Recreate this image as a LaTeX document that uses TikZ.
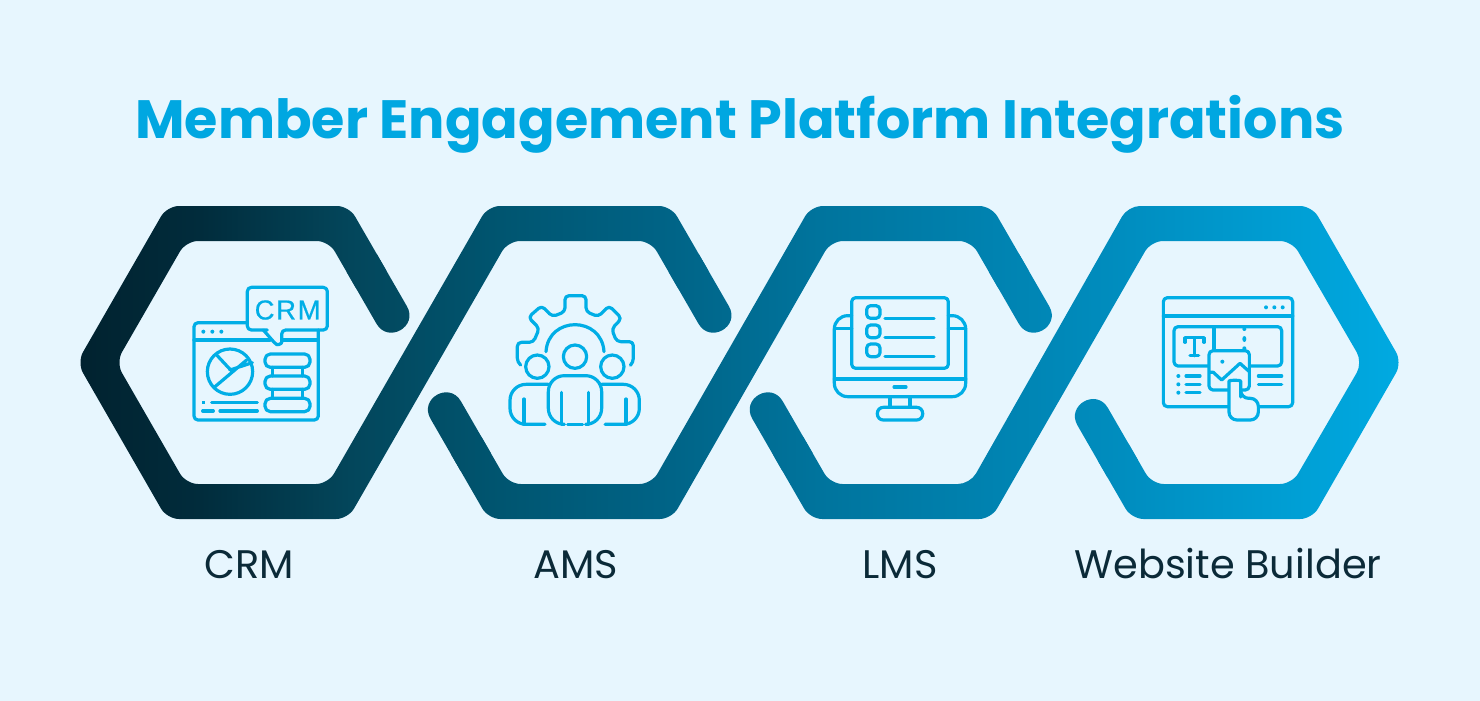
\documentclass[tikz,border=0pt]{standalone}
\usepackage{fontspec}
\setmainfont{Poppins}
\newfontfamily\titlefont{Poppins}
\newfontfamily\bubblefont[LetterSpace=6,FakeBold=0.5]{Liberation Sans}
\definecolor{bgc}{HTML}{E7F6FE}
\definecolor{titlec}{HTML}{00A7E1}
\definecolor{iconc}{HTML}{00AEE6}
\definecolor{labelc}{HTML}{0B2A38}
\definecolor{g0}{HTML}{01222F}
\definecolor{g1}{HTML}{012C3C}
\definecolor{g2}{HTML}{03465B}
\definecolor{g3}{HTML}{005570}
\definecolor{g4}{HTML}{006487}
\definecolor{g5}{HTML}{00749D}
\definecolor{g6}{HTML}{008EC0}
\definecolor{g7}{HTML}{00AAE2}
\pgfdeclarehorizontalshading{bandshade}{100bp}{
 color(0bp)=(g0); color(25bp)=(g0); color(29.65bp)=(g1); color(35.3bp)=(g2); color(40.95bp)=(g3);
 color(47.4bp)=(g4); color(53bp)=(g5); color(64.75bp)=(g6); color(75bp)=(g7); color(100bp)=(g7)}
\newcommand\topcap[2]{([shift={(#1,#2)}]15.2,-8.75) .. controls ([shift={(#1,#2)}]26.9,11.45) and ([shift={(#1,#2)}]-3.5,28.95) .. ([shift={(#1,#2)}]-15.2,8.75) -- ([shift={(#1,#2)}]-45.2,-43.25) -- ([shift={(#1,#2)}]-14.8,-60.75) -- cycle}
\newcommand\lowcap[2]{([shift={(#1,#2)}]-15.2,8.75) .. controls ([shift={(#1,#2)}]-26.9,-11.45) and ([shift={(#1,#2)}]3.5,-28.95) .. ([shift={(#1,#2)}]15.2,-8.75) -- ([shift={(#1,#2)}]45.2,43.25) -- ([shift={(#1,#2)}]14.8,60.75) -- cycle}
\tikzset{
  ic/.style={draw=iconc,line width=2.4pt,line cap=round,line join=round},
  icr/.style={ic,rounded corners=3pt},
  icf/.style={ic,fill=bgc},
  icdot/.style={fill=iconc},
  lab/.style={text=labelc,font=\fontsize{29.9}{34}\selectfont,anchor=base},
  z1/.style={shift={#1},x=0.25pt,y=-0.25pt}
}
\begin{document}
\begin{tikzpicture}[x=0.75pt,y=-0.75pt]
\useasboundingbox (0,0) rectangle (1480,700);
\fill[bgc] (-10,-10) rectangle (1490,710);
\node[text=titlec,anchor=base,font=\titlefont\bfseries\fontsize{40.47}{46}\selectfont] (title) at (740,138) {Member Engagement Platform Integrations};
% band: main bodies
\begin{scope}
\clip[rounded corners=9pt]
 (391.9,280.2) -- (349,206) -- (167,206) -- (77,362.5) -- (167,519) -- (348,519) -- (508,241) -- (650.75,241)
 -- (683.5,297.7) -- (713.9,280.2) -- (671,206) -- (488,206) -- (328,484) -- (186,484) -- (116,362.5) -- (186,241) -- (328.75,241)
 -- (361.5,297.7) -- cycle
 (475.9,427.25) -- (508.65,484) -- (651.5,484) -- (811,206) -- (991.35,206)
 -- (1034.2,280.2) -- (1003.8,297.7) -- (971.05,241) -- (831,241) -- (671.7,519) -- (488.35,519)
 -- (445.5,444.75) -- cycle
 (797.7,427.25) -- (830.45,484) -- (970,484) -- (1128,206) -- (1312,206) -- (1402,362.5) -- (1312,519) -- (1131.5,519)
 -- (1092.5,451.45) -- (1122.9,433.95)
 -- (1151.8,484) -- (1292,484) -- (1362.7,362.5) -- (1292,241) -- (1151,241) -- (991,519) -- (810.15,519)
 -- (767.3,444.75) -- cycle;
\shade[shading=bandshade] (77,200) rectangle (1402,525);
\end{scope}
% band: round ends
\begin{scope}
\clip \topcap{391.7}{315} \topcap{713.7}{315} \topcap{1034}{315} \lowcap{445.7}{410} \lowcap{767.5}{410} \lowcap{1092.7}{416.7};
\shade[shading=bandshade] (77,200) rectangle (1402,525);
\end{scope}
% CRM icon
\begin{scope}[z1={(180,280)}]
\draw[icr] (200,128) -- (42,128) -- (42,420) -- (415,420) -- (415,150);
\draw[ic] (42,180) -- (270,180) (310,180) -- (415,180);
\foreach \a in {70,97,124} \fill[icdot] (\a,155) circle (6);
\draw[icr] (262,150) -- (202,150) -- (202,22) -- (442,22) -- (442,150) -- (305,150) -- (305,188);
\draw[ic,rounded corners=2pt] (305,188) -- (295,197) -- (285,190) -- (250,150);
\node[text=iconc,font=\bubblefont\fontsize{20.6}{22}\selectfont,inner sep=0pt] (bubbletext) at (323,90) {CRM};
\draw[ic] (150,275) circle (68);
\draw[ic] (110,225) -- (152,270) (105,320) -- (200,240) (150,270) -- (217,248);
\foreach \a in {222,288,355} \draw[icr,rounded corners=4pt] (255,\a) rectangle (390,\a+40);
\draw[ic] (278,262) -- (278,288) (368,262) -- (368,288) (278,328) -- (278,355) (368,328) -- (368,355);
\fill[icdot] (65,363) rectangle (76,373);
\draw[ic] (95,368) -- (232,368) (68,393) -- (100,393) (120,393) -- (232,393);
\end{scope}
% AMS icon
\begin{scope}[z1={(500,285)}]
\draw[ic,rounded corners=3pt] (62,240) -- (52,232) -- (52,172) -- (100,172) -- (118,130) -- (85,97) -- (125,62) -- (157,95) -- (195,80) -- (195,32) -- (258,32) -- (258,80) -- (295,95) -- (327,62) -- (365,100) -- (335,132) -- (350,170) -- (400,170) -- (400,232) -- (392,240);
\draw[ic] (138,200) .. controls (145,92) and (305,92) .. (312,200);
\draw[ic] (225,215) circle (35) (112,245) circle (35) (337,245) circle (35);
\draw[ic,rounded corners=12pt] (135,418) -- (30,418) -- (30,298) -- (145,298);
\draw[ic,rounded corners=12pt] (315,418) -- (418,418) -- (418,298) -- (305,298);
\draw[ic] (72,342) -- (72,418) (378,342) -- (378,418);
\draw[ic,rounded corners=12pt] (185,418) -- (145,418) -- (145,272) -- (305,272) -- (305,418) -- (265,418);
\draw[ic] (185,322) -- (185,418) (265,322) -- (265,418) (203,418) -- (248,418);
\end{scope}
% LMS icon
\begin{scope}[z1={(825,285)}]
\draw[ic,rounded corners=10pt] (80,92) -- (28,92) -- (28,335) -- (422,335) -- (422,92) -- (370,92);
\draw[ic] (28,282) -- (422,282) (28,130) -- (80,130) (370,130) -- (422,130);
\draw[icr] (80,38) rectangle (370,250);
\foreach \a in {62,120,177} \draw[icr] (125,\a) rectangle (165,\a+38);
\foreach \a in {100,157,214} \draw[ic] (180,\a) -- (327,\a);
\draw[ic] (207,306) -- (243,306);
\draw[ic] (195,335) -- (195,367) (255,335) -- (255,367);
\draw[ic,rounded corners=4.5pt] (157,367) rectangle (293,405);
\end{scope}
% Website builder icon
\begin{scope}[z1={(1150,285)}]
\draw[icr] (40,38) rectangle (428,365);
\draw[ic] (40,93) -- (428,93);
\foreach \a in {348,373,398} \fill[icdot] (\a,67) circle (6);
\draw[icr] (72,125) rectangle (395,243);
\draw[ic] (192,125) -- (192,197);
\fill[icdot] (283,132) circle (6) (283,190) circle (6);
\fill[icdot] (283,162) ellipse (6 and 9);
\draw[ic] (105,172) -- (105,158) -- (162,158) -- (162,172) (133,158) -- (133,212) (120,212) -- (146,212);
\draw[icf,rounded corners=3pt] (177,197) rectangle (298,315);
\draw[ic] (180,262) -- (190,262) -- (215,285) -- (270,235) -- (298,260);
\fill[icdot] (217,230) circle (6);
\foreach \a in {273,298,323} {\fill[icdot] (85,\a) circle (6); \draw[ic] (108,\a) -- (150,\a);}
\draw[ic] (325,273) -- (395,273) (325,298) -- (395,298);
\draw[icf,rounded corners=6pt] (237,312) .. controls (237,285) and (272,285) .. (272,312) -- (272,340) -- (325,340) -- (325,405) -- (237,405) -- cycle;
\end{scope}
\node[lab] (crm) at (249,578) {CRM};
\node[lab] (ams) at (576,578) {AMS};
\node[lab] (lms) at (900,578) {LMS};
\node[lab] (web) at (1228,578) {Website Builder};
\end{tikzpicture}
\end{document}
